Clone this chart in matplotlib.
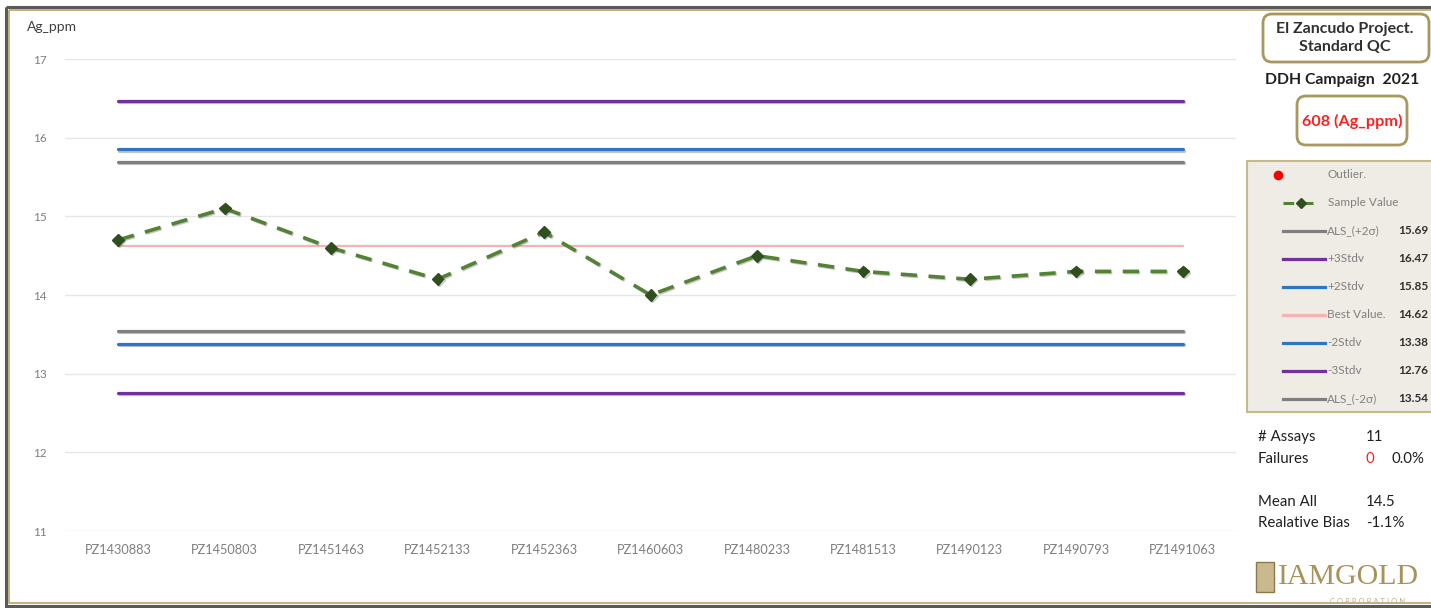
import matplotlib
matplotlib.use("Agg")
import matplotlib.pyplot as plt
import matplotlib.patheffects as pe
from matplotlib.patches import FancyBboxPatch, Rectangle
from matplotlib.lines import Line2D

plt.rcParams['font.family'] = ['Lato', 'DejaVu Sans']

# --- data ---
samples = ['PZ1430883', 'PZ1450803', 'PZ1451463', 'PZ1452133', 'PZ1452363',
           'PZ1460603', 'PZ1480233', 'PZ1481513', 'PZ1490123', 'PZ1490793',
           'PZ1491063']
sample_values = [14.7, 15.1, 14.6, 14.2, 14.8, 14.0, 14.5, 14.3, 14.2, 14.3, 14.3]

limit_names = ['ALS_(+2σ)', '+3Stdv', '+2Stdv', 'Best Value.', '-2Stdv', '-3Stdv', 'ALS_(-2σ)']
limit_values = [15.69, 16.47, 15.85, 14.62, 13.38, 12.76, 13.54]
limit_colors = ['#7f7f7f', '#7030a0', '#2e75c6', '#f4b4b4', '#2e75c6', '#7030a0', '#7f7f7f']

n_assays = len(samples)
n_failures = 0
mean_all = sum(sample_values) / n_assays
best_value = limit_values[3]
rel_bias = (mean_all / best_value - 1) * 100

W, H = 1431, 608
fig = plt.figure(figsize=(W / 100, H / 100), dpi=100)
fig.patch.set_facecolor('white')

ax = fig.add_axes([65 / W, 1 - 531 / H, (1236 - 65) / W, (531 - 59) / H])
x = list(range(n_assays))
shadow = [pe.SimpleLineShadow(offset=(0.8, -0.8), alpha=0.35, shadow_color='#555555'), pe.Normal()]

# limit lines
for name, val, col in zip(limit_names, limit_values, limit_colors):
    best = name.startswith('Best')
    ax.plot(x, [val] * n_assays, color=col, lw=1.6 if best else 2.3, solid_capstyle='round',
            path_effects=None if best else shadow, zorder=2)

ax.plot(x, sample_values, color='#548235', lw=2.6, ls=(0, (4.5, 3.2)),
        marker='D', markersize=6, markerfacecolor='#2f4f1f', markeredgecolor='#2f4f1f',
        path_effects=shadow, zorder=3)

ax.set_xlim(-0.5, n_assays - 0.5)
ax.set_ylim(11, 17)
ax.set_yticks(range(11, 18))
ax.set_xticks(x)
ax.set_xticklabels(samples)
ax.tick_params(axis='both', length=0, labelcolor='#7f7f7f', labelsize=8.5)
ax.tick_params(axis='x', labelsize=9.2, pad=9)
ax.tick_params(axis='y', pad=13)
ax.grid(axis='y', color='#e6e6e6', lw=1)
ax.set_axisbelow(True)
for s in ax.spines.values():
    s.set_visible(False)

# overlay in pixel coordinates for the side panel and frame
ov = fig.add_axes([0, 0, 1, 1], zorder=5)
ov.set_xlim(0, W)
ov.set_ylim(H, 0)
ov.axis('off')
ov.patch.set_alpha(0)

# outer frame
ov.add_patch(Rectangle((6, 7), W + 20, H - 9, fill=False, ec='#5a5a5a', lw=2.2))
ov.add_patch(Rectangle((9, 10), W + 20, H - 15, fill=False, ec='#b8a46a', lw=1.2))

ov.text(27, 27, 'Ag_ppm', fontsize=10, color='#404040', va='center', ha='left')

# title boxes
ov.add_patch(FancyBboxPatch((1263, 14), 166, 48, boxstyle='round,pad=0,rounding_size=9',
                            fc='white', ec='#a8975f', lw=2))
ov.text(1345, 38, 'El Zancudo Project.\nStandard QC', fontsize=11.5, fontweight='bold',
        color='#303030', ha='center', va='center', linespacing=1.3)
ov.text(1265, 80, 'DDH Campaign  2021', fontsize=11.3, fontweight='bold',
        color='#202020', ha='left', va='center')
ov.add_patch(FancyBboxPatch((1297, 96), 110, 49, boxstyle='round,pad=0,rounding_size=9',
                            fc='white', ec='#a8975f', lw=2))
ov.text(1352, 121, '608 (Ag_ppm)', fontsize=11.6, fontweight='bold',
        color='#ff2020', ha='center', va='center')

# legend panel
ov.add_patch(Rectangle((1247, 161), 200, 251, fc='#eeece4', ec='#c8b98a', lw=1.5))
row0, step = 175, 28
ov.plot([1278], [row0], 'o', color='#ff0000', markersize=6)
ov.text(1328, row0, 'Outlier.', fontsize=8.5, color='#808080', va='center')
r = row0 + step
ov.add_line(Line2D([1283, 1318], [r, r], color='#548235', lw=2.2, ls=(0, (3.5, 2.8))))
ov.plot([1301], [r], 'D', color='#2f4f1f', markersize=5)
ov.text(1328, r, 'Sample Value', fontsize=8.5, color='#808080', va='center')
for i, (name, val, col) in enumerate(zip(limit_names, limit_values, limit_colors)):
    r = row0 + step * (i + 2)
    ov.add_line(Line2D([1283, 1325], [r, r], color=col, lw=2.3))
    ov.text(1327, r, name, fontsize=8.5, color='#808080', va='center')
    ov.text(1398, r, f'{val:.2f}', fontsize=8.5, color='#303030', va='center', fontweight='bold')

# stats
st = dict(fontsize=10.8, color='#202020', va='center')
ov.text(1258, 437, '# Assays', **st)
ov.text(1366, 437, f'{n_assays}', **st)
ov.text(1258, 459, 'Failures', **st)
ov.text(1366, 459, f'{n_failures}', fontsize=10.8, color='#ff2020', va='center')
ov.text(1391, 459, f'{n_failures / n_assays * 100:.1f}%', **st)
ov.text(1258, 502, 'Mean All', **st)
ov.text(1366, 502, f'{mean_all:.1f}', **st)
ov.text(1258, 523, 'Realative Bias', **st)
ov.text(1366, 523, f'{rel_bias:.1f}%', **st)

# logo
ov.add_patch(Rectangle((1256, 562), 18, 30, fc='#c9b98e', ec='#8c7a4c', lw=1))
ov.text(1278, 577, 'IAMGOLD', fontsize=21.5, family='Liberation Serif',
        color='#a8915a', va='center', ha='left')
ov.text(1330, 601, 'C O R P O R A T I O N', fontsize=5.5, color='#c0b090', va='center')

fig.savefig('out.png', dpi=100)
